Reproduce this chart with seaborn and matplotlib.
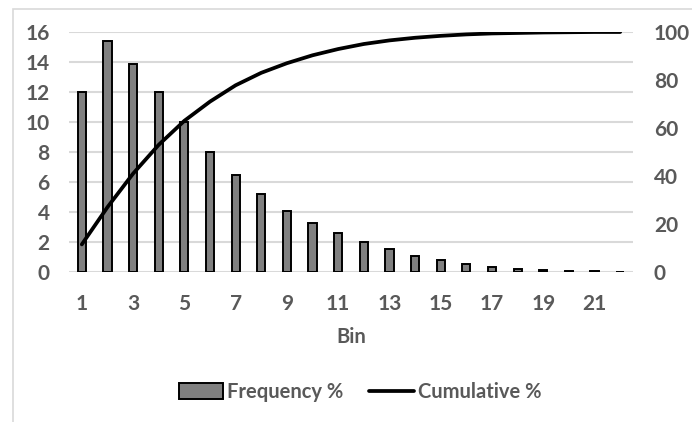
import matplotlib
matplotlib.use("Agg")
import matplotlib.pyplot as plt
from matplotlib.patches import Rectangle
from matplotlib.lines import Line2D
from matplotlib.patches import Patch
import seaborn as sns
import pandas as pd

# Histogram of bins with frequency (%) and cumulative (%)
bins = [str(b) for b in range(1, 23)]
frequency = [12.0, 15.4, 13.9, 12.0, 10.0, 8.0, 6.5, 5.2, 4.1, 3.25, 2.6,
             2.0, 1.55, 1.1, 0.8, 0.55, 0.35, 0.18, 0.13, 0.05, 0.05, 0.0]
cumulative = [11.5, 27.0, 41.0, 53.0, 63.0, 71.0, 77.8, 83.0, 87.0, 90.3, 92.9,
              95.0, 96.5, 97.6, 98.4, 99.0, 99.4, 99.6, 99.8, 99.9, 100.0, 100.0]
left_ticks = [0, 2, 4, 6, 8, 10, 12, 14, 16]
right_ticks = [0, 20, 40, 60, 80, 100]

df = pd.DataFrame({"Bin": bins, "Frequency %": frequency,
                   "Cumulative %": cumulative, "pos": range(len(bins))})

sns.set_theme(style="white")
plt.rcParams["font.family"] = ["Lato", "DejaVu Sans"]
TXT = "#595959"
GRID = "#d9d9d9"
FS = 15

W, H = 692, 422
fig = plt.figure(figsize=(W / 100, H / 100), dpi=100)
ax = fig.add_axes([69 / W, 1 - 272 / H, (633 - 69) / W, (272 - 32) / H])

sns.barplot(data=df, x="Bin", y="Frequency %", ax=ax, width=0.32,
            color="#808080", saturation=1, edgecolor="black", linewidth=1.4,
            zorder=3)
ax.set_xlim(-0.5, len(bins) - 0.5)
ax.set_ylim(0, 16)
ax.set_yticks(left_ticks)
ax.yaxis.grid(True, color=GRID, linewidth=1.5, zorder=0)
ax.set_axisbelow(True)
ax.set_xticks(range(0, len(bins), 2))
ax.set_xticklabels(bins[::2])
ax.set_xlabel("")
ax.set_ylabel("")
for s in ax.spines.values():
    s.set_visible(False)
ax.tick_params(axis="both", length=0, labelsize=FS, labelcolor=TXT)
ax.tick_params(axis="y", pad=14)
ax.tick_params(axis="x", pad=16)

ax2 = ax.twinx()
sns.lineplot(data=df, x="pos", y="Cumulative %", ax=ax2, color="black",
             linewidth=2.7, zorder=4)
ax2.set_ylim(0, 100)
ax2.set_yticks(right_ticks)
ax2.set_xlim(-0.5, len(bins) - 0.5)
ax2.set_ylabel("")
ax2.set_xlabel("")
ax2.grid(False)
for s in ax2.spines.values():
    s.set_visible(False)
ax2.tick_params(axis="y", length=0, labelsize=FS, labelcolor=TXT, pad=15)

for lab in ax.get_xticklabels() + ax.get_yticklabels() + ax2.get_yticklabels():
    lab.set_fontweight("bold")

fig.text(351 / W, 1 - 337 / H, "Bin", ha="center", va="center",
         fontsize=FS - 0.5, color=TXT, fontweight="bold")

handles = [Patch(facecolor="#808080", edgecolor="black", linewidth=1.4),
           Line2D([], [], color="black", linewidth=2.7)]
leg = fig.legend(handles, ["Frequency %", "Cumulative %"], ncol=2,
                 loc="center", bbox_to_anchor=(360 / W, 1 - 392 / H),
                 frameon=False, handlelength=2.2, handleheight=0.8,
                 handletextpad=0.2, columnspacing=1.3,
                 prop={"size": FS - 0.5, "weight": "bold"})
for t in leg.get_texts():
    t.set_color(TXT)

# chart area border
fig.patches.append(Rectangle((12.5 / W, -0.2), 1.2, 1.2 - 8.5 / H,
                             transform=fig.transFigure, fill=False,
                             edgecolor=GRID, linewidth=1.2, zorder=0))

fig.savefig("out.png", dpi=100, facecolor="white")
